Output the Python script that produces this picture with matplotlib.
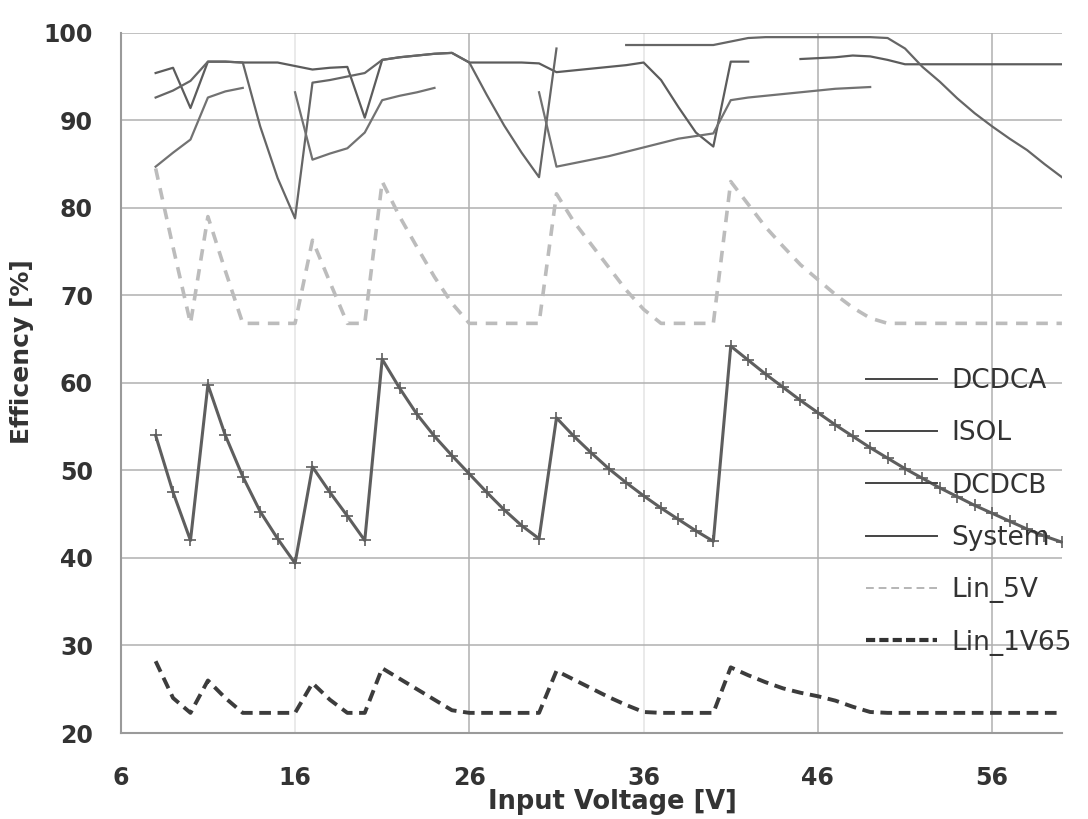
import numpy as np
import matplotlib
matplotlib.use("Agg")
import matplotlib.pyplot as plt
from matplotlib.lines import Line2D

nan = np.nan

# Input voltage [V]
voltage = list(range(8, 61))

# Efficiency [%] (NaN where the curve is broken)
dcdca = [95.4, 96.0, 91.4, 96.7, 96.7, 96.6, 96.6, 96.6, 96.2,
         95.8, 96.0, 96.1, 90.3,
         96.9, 97.2, 97.4, 97.6, 97.7, 96.6, 96.6, 96.6, 96.6, 96.5,
         95.5, 95.7, 95.9, 96.1, 96.3, 96.6, 94.6, 91.5, 88.6, 87.0,
         96.7, 96.7, nan, nan, 97.0, 97.1, 97.2, 97.4, 97.3, 96.9,
         96.4, 96.4, 96.4, 96.4, 96.4, 96.4, 96.4, 96.4, 96.4, 96.4]
isol = [92.6, 93.4, 94.5, 96.7, 96.7, 96.6, 89.3, 83.4, 78.8,
        94.3, 94.6, 95.0, 95.4,
        96.9, 97.2, 97.4, 97.6, 97.7, 96.6, 92.9, 89.4, 86.3, 83.5,
        98.2, nan, nan, nan, 98.6, 98.6, 98.6, 98.6, 98.6, 98.6,
        99.0, 99.4, 99.5, 99.5, 99.5, 99.5, 99.5, 99.5, 99.5, 99.4,
        98.2, 96.1, 94.4, 92.5, 90.8, 89.3, 87.9, 86.6, 85.0, 83.5]
dcdcb = [84.7, 86.3, 87.8, 92.6, 93.3, 93.7, nan, nan, 93.2,
         85.5, 86.2, 86.8, 88.6,
         92.3, 92.8, 93.2, 93.7, nan, nan, nan, nan, nan, 93.2,
         84.7, 85.1, 85.5, 85.9, 86.4, 86.9, 87.4, 87.9, 88.2, 88.5,
         92.3, 92.6, 92.8, 93.0, 93.2, 93.4, 93.6, 93.7, 93.8, nan,
         nan, nan, nan, nan, nan, nan, nan, nan, nan, nan]
system = [54.0, 47.5, 42.0, 59.8, 54.0, 49.3, 45.3, 42.2, 39.4,
          50.4, 47.5, 44.8, 42.0,
          62.7, 59.4, 56.4, 53.9, 51.7, 49.6, 47.5, 45.5, 43.7, 42.2,
          56.0, 53.9, 52.0, 50.2, 48.6, 47.1, 45.7, 44.4, 43.1, 41.9,
          64.2, 62.6, 61.0, 59.5, 58.0, 56.6, 55.2, 53.9, 52.6, 51.4,
          50.2, 49.1, 48.0, 47.0, 46.0, 45.1, 44.2, 43.3, 42.5, 41.8]
lin_5v = [84.5, 75.5, 66.8, 79.0, 72.8, 66.8, 66.8, 66.8, 66.8,
          76.3, 71.5, 66.8, 66.8,
          83.0, 79.0, 75.5, 72.1, 69.1, 66.8, 66.8, 66.8, 66.8, 66.8,
          81.6, 78.4, 75.8, 73.2, 70.6, 68.4, 66.8, 66.8, 66.8, 66.8,
          83.0, 80.4, 77.8, 75.6, 73.5, 71.8, 70.1, 68.6, 67.4, 66.8,
          66.8, 66.8, 66.8, 66.8, 66.8, 66.8, 66.8, 66.8, 66.8, 66.8]
lin_1v65 = [28.2, 24.0, 22.3, 26.0, 24.0, 22.3, 22.3, 22.3, 22.3,
            25.7, 23.8, 22.3, 22.3,
            27.4, 26.2, 25.0, 23.8, 22.6, 22.3, 22.3, 22.3, 22.3, 22.3,
            27.1, 26.1, 25.1, 24.1, 23.2, 22.4, 22.3, 22.3, 22.3, 22.3,
            27.5, 26.6, 25.8, 25.1, 24.6, 24.2, 23.7, 23.0, 22.4, 22.3,
            22.3, 22.3, 22.3, 22.3, 22.3, 22.3, 22.3, 22.3, 22.3, 22.3]

x_ticks = [6, 16, 26, 36, 46, 56]
y_ticks = [20, 30, 40, 50, 60, 70, 80, 90, 100]

plt.rcParams['font.family'] = ['DejaVu Sans']

fig, ax = plt.subplots(figsize=(10.88, 8.19), dpi=100)
fig.subplots_adjust(left=0.111, right=0.976, bottom=0.105, top=0.960)

ax.plot(voltage, dcdca, color="#5c5c5c", lw=1.6)
ax.plot(voltage, isol, color="#666666", lw=1.6)
ax.plot(voltage, dcdcb, color="#727272", lw=1.6)
ax.plot(voltage, system, color="#5e5e5e", lw=2.2, marker="+", ms=9, mew=1.2)
ax.plot(voltage, lin_5v, color="#bcbcbc", lw=2.6, dashes=(3.2, 2.4))
ax.plot(voltage, lin_1v65, color="#3c3c3c", lw=2.8, dashes=(3.0, 1.7))

ax.set_xlim(6, 60)
ax.set_ylim(20, 100)
ax.set_xticks(x_ticks)
ax.set_yticks(y_ticks)
ax.tick_params(length=0, labelsize=17, colors="#333333")
ax.tick_params(axis="x", pad=24)
ax.tick_params(axis="y", pad=20)
for lab in ax.get_xticklabels() + ax.get_yticklabels():
    lab.set_fontweight("bold")

ax.grid(True, color="#b0b0b0", lw=1.1)
for v, gl in zip(x_ticks, ax.get_xgridlines()):
    if v in (16, 36):
        gl.set_color("#e4e4e4")
ax.set_axisbelow(True)
for side in ("top", "right"):
    ax.spines[side].set_visible(False)
for side in ("left", "bottom"):
    ax.spines[side].set_color("#9a9a9a")
    ax.spines[side].set_linewidth(1.5)

fig.text(612 / 1088, 1 - 802 / 819, "Input Voltage [V]", ha="center", va="center",
         fontsize=18.5, fontweight="bold", color="#333333")
fig.text(22 / 1088, 1 - 352 / 819, "Efficency [%]", ha="center", va="center",
         rotation=90, fontsize=18, fontweight="bold", color="#333333")

handles = [
    Line2D([], [], color="#444444", lw=1.4),
    Line2D([], [], color="#444444", lw=1.4),
    Line2D([], [], color="#444444", lw=1.4),
    Line2D([], [], color="#444444", lw=1.4),
    Line2D([], [], color="#b5b5b5", lw=1.4, dashes=(4, 2.5)),
    Line2D([], [], color="#333333", lw=3.0, dashes=(2.2, 1.0)),
]
names = ["DCDCA", "ISOL", "DCDCB", "System", "Lin_5V", "Lin_1V65"]
ax.legend(handles, names, loc="upper left", bbox_to_anchor=(842 / 1088, 1 - 344 / 819),
          bbox_transform=fig.transFigure, frameon=False, fontsize=19,
          handlelength=2.7, handletextpad=0.55, labelspacing=1.0,
          labelcolor="#333333")

fig.savefig("out.png", dpi=100)
